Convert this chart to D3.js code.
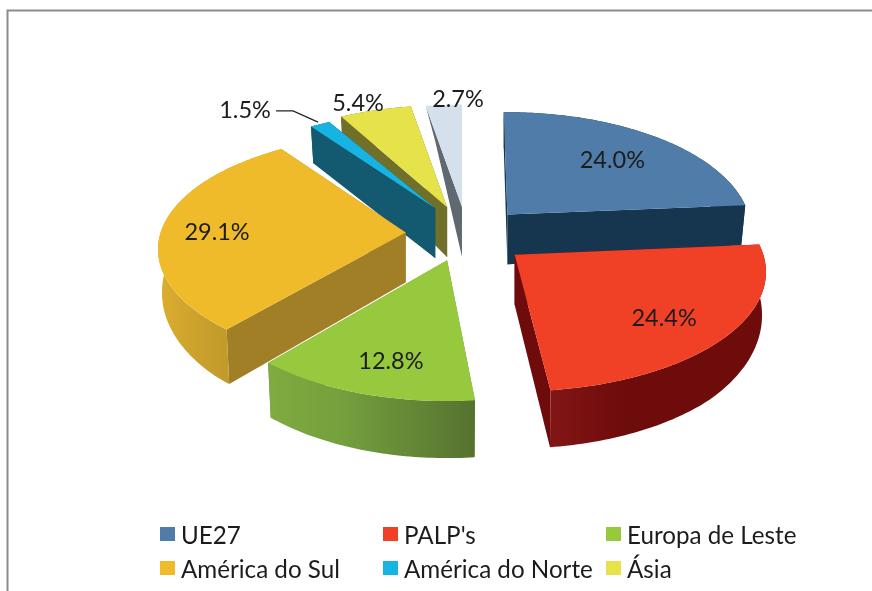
<!DOCTYPE html>
<html><head><meta charset="utf-8">
<style>html,body{margin:0;padding:0;background:#fff}svg{display:block}</style>
<script src="https://cdn.jsdelivr.net/npm/d3@7/dist/d3.min.js"></script>
</head><body><div id="c"></div>
<script>
// data
const categories = ["UE27","PALP's","Europa de Leste","América do Sul","América do Norte","Ásia"];
const values = [24.0,24.4,12.8,29.1,1.5,5.4,2.7];
const labels = ["24.0%","24.4%","12.8%","29.1%","1.5%","5.4%","2.7%"];
// styling / layout
const topColors  = ["#4f7ca8","#f04025","#97c93f","#f0bb2b","#17b3e3","#e6e34a","#d4e1ec"];
const wallColors = ["#16364f","#6f0b0b","#6f8f35","#a07f27","#13596f","#70702a","#606870"];
const rimLeft    = ["#16364f","#821616","#80ab40","#dcae30","#13596f","#70702a","#606870"];
const rimMid     = ["#16364f","#6e0b0b","#74a03e","#c9a02c","#13596f","#70702a","#606870"];
const rimRight   = ["#16364f","#6e0b0b","#56722f","#b08f28","#13596f","#70702a","#606870"];
const explodeX   = [0.272,0.27,0.21,0.235,0.22,0.20,0.05];
const explodeY   = [0.26,0.24,0.21,0.235,0.29,0.27,0.26];
const nudgeY     = [0,0,0,-2,0,0,0];
const sliceTurn  = [-1,-1.5,0,0,0,0,0];
const scaleX     = [0.985,1.015,1,1,1,1,1];
const scaleY     = [1,1,1.03,0.97,0.95,1,1];
const rimInset   = [0,0,0,0,0,0,9];
const labelR     = [0.66,0.74,0.80,0.80,1.25,1.02,1.05];
const labelDx    = [5,-4,10,6,-50,-16,15];
const labelDy    = [-2,4,-4,3,3,-7,-3];
const drawOrder  = [6,5,4,0,3,1,2];

const W=872,H=591,cx=463,cy=236,A=245,B=117,k=0.145;
const svg=d3.select("#c").append("svg").attr("width",W).attr("height",H);
const defs=svg.append("defs");
svg.append("path").attr("d",`M${W},10.5H7.5V${H}`).attr("fill","none").attr("stroke","#8c8c8c").attr("stroke-width",2);
const g=svg.append("g").style("filter","blur(0.45px)");

const arcs=d3.pie().sort(null).value(d=>d)(values);
const rimDepth=d3.scaleLinear().domain([-1,0,0.7,1]).range([36,40,54,57]);
const apexDepth=50;
function proj(a,r){const X=r*Math.sin(a),Y=-r*Math.cos(a),s=1/(1-k*Y);return [A*X*s,B*Y*s];}
const line=d3.line();
arcs.forEach((d,i)=>{
  const mid=(d.startAngle+d.endAngle)/2, ox=proj(mid,explodeX[i])[0], oy=proj(mid,explodeY[i])[1];
  const t=sliceTurn[i]*Math.PI/180;
  d.startAngle+=t; d.endAngle+=t;
  d.apex=[cx+ox,cy+oy+nudgeY[i]]; d.mid=mid+t;
  d.pt=(a,r=1)=>{const p=proj(a,r);return [d.apex[0]+p[0]*scaleX[i],d.apex[1]+p[1]*scaleY[i]];};
});
arcs.forEach((d,i)=>{
  const gr=defs.append("linearGradient").attr("id","rim"+i);
  gr.append("stop").attr("offset",0).attr("stop-color",rimLeft[i]);
  gr.append("stop").attr("offset",0.35).attr("stop-color",rimMid[i]);
  gr.append("stop").attr("offset",1).attr("stop-color",rimRight[i]);
});
drawOrder.forEach(i=>{
  const d=arcs[i], n=Math.max(4,Math.ceil((d.endAngle-d.startAngle)*60));
  const as=d3.range(n+1).map(t=>d.startAngle+(d.endAngle-d.startAngle)*t/n);
  const topArc=as.map(a=>d.pt(a));
  const low=(a,inset=0)=>{const p=d.pt(a);return [p[0]-4*Math.sin(a)+inset,p[1]+rimDepth(-Math.cos(a))];};
  const botArc=as.map(a=>low(a));
  const ab=[d.apex[0],d.apex[1]+apexDepth];
  const sl=g.append("g").attr("class","slice");
  sl.append("path").attr("d",line([d.apex,d.pt(d.startAngle),low(d.startAngle,rimInset[i]),ab])+"Z").attr("fill",wallColors[i]);
  sl.append("path").attr("d",line([d.apex,d.pt(d.endAngle),low(d.endAngle),ab])+"Z").attr("fill",wallColors[i]);
  if(!rimInset[i]) sl.append("path").attr("d",line(topArc.concat(botArc.slice().reverse()))+"Z").attr("fill",`url(#rim${i})`);
  sl.append("path").attr("d",line([d.apex].concat(topArc))+"Z").attr("fill",topColors[i]);
});
// labels
const font="Lato, Carlito, sans-serif";
arcs.forEach((d,i)=>{
  const q=d.pt(d.mid,labelR[i]), p=[q[0]+labelDx[i],q[1]+labelDy[i]];
  g.append("text").attr("x",p[0]).attr("y",p[1]).attr("text-anchor","middle").attr("dominant-baseline","central")
   .attr("font-family",font).attr("font-size",23.5).attr("fill","#1c1c1c").text(labels[i]);
  if(i===4){
    const e=d.pt(d.mid,1);
    g.append("path").attr("d",line([[p[0]+31,p[1]+2],[p[0]+48,p[1]+2],[e[0]-2,e[1]-2]])).attr("fill","none").attr("stroke","#222").attr("stroke-width",1.2);
  }
});
// legend
const colX=d3.scalePoint().domain([0,1,2]).range([160,606]);
const rowY=d3.scalePoint().domain([0,1]).range([534,568]);
categories.forEach((c,i)=>{
  const x=colX(i%3),y=rowY(Math.floor(i/3));
  g.append("rect").attr("x",x).attr("y",y-7).attr("width",15).attr("height",14).attr("fill",topColors[i]);
  g.append("text").attr("x",x+21).attr("y",y).attr("dominant-baseline","central")
   .attr("font-family",font).attr("font-size",24.2).attr("fill","#1c1c1c").text(c);
});
</script></body></html>
